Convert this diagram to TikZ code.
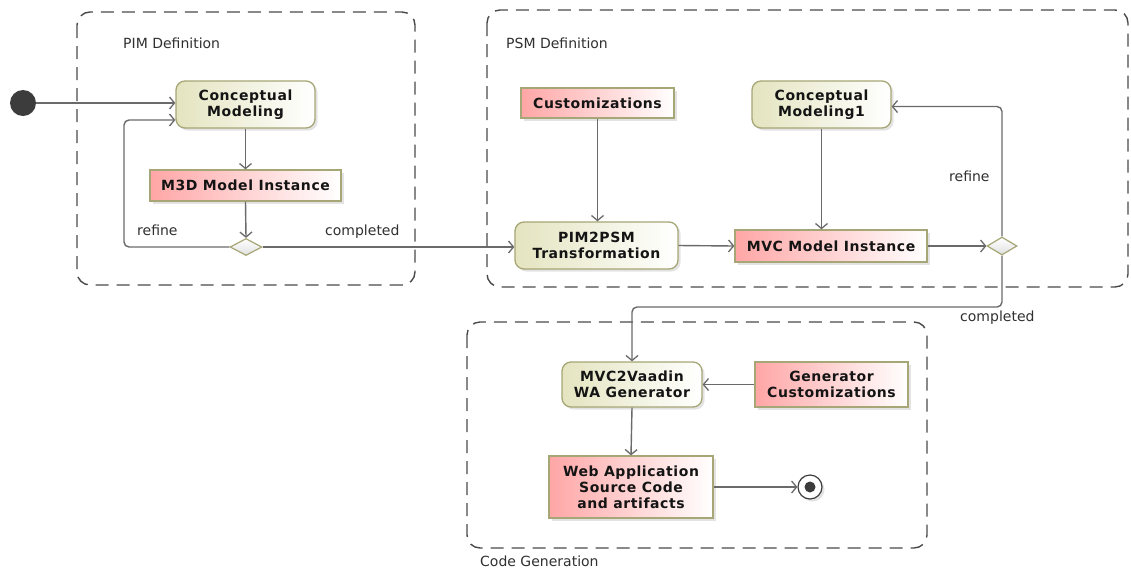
\documentclass[tikz,border=0pt]{standalone}
\usepackage{fontspec}
\setmainfont{DejaVu Sans}
\newfontfamily\boxfont[LetterSpace=4]{DejaVu Sans}
\newfontfamily\tagfont{DejaVu Sans}
\usetikzlibrary{arrows.meta,shapes.geometric,shadows,calc}

\definecolor{actfill}{HTML}{E4E4C0}
\definecolor{actline}{HTML}{A6A676}
\definecolor{objfill}{HTML}{FFA6A6}
\definecolor{flow}{HTML}{6A6A6A}
\definecolor{frameline}{HTML}{4A4A4A}
\definecolor{inkdark}{HTML}{3C3C3C}
\definecolor{tagtext}{HTML}{303030}

\begin{document}
\begin{tikzpicture}[x=1pt,y=-1pt,
  boxshadow/.style={drop shadow={opacity=0.22,shadow xshift=2.5pt,shadow yshift=-2.5pt}},
  activity/.style={draw=actline, line width=1.3pt, rounded corners=9pt,
    left color=actfill, right color=white, boxshadow,
    font=\boxfont\bfseries\fontsize{14}{16}\selectfont, align=center,
    inner sep=0pt, text=black!92},
  artifact/.style={draw=actline, line width=1.3pt,
    left color=objfill, right color=white, boxshadow,
    font=\boxfont\bfseries\fontsize{14}{16}\selectfont, align=center,
    inner sep=0pt, text=black!92},
  choice/.style={diamond, draw=actline, line width=1.2pt, top color=white,
    bottom color=black!12, inner sep=0pt, minimum width=32pt, minimum height=17pt},
  flowarrow/.style={draw=flow, line width=1.4pt, rounded corners=5pt,
    -{Straight Barb[length=5pt,width=12pt,line width=1.3pt]}},
  region/.style={draw=frameline, line width=1.4pt, dash pattern=on 13pt off 8pt,
    rounded corners=13pt},
  tag/.style={font=\tagfont\fontsize{14}{16}\selectfont, text=tagtext,
    inner sep=0pt, anchor=west}
]
\useasboundingbox[fill=white] (0,0) rectangle (1131,571);

% partitions
\draw[region] (77,12) rectangle (415,285);
\draw[region] (487,10) rectangle (1128,287);
\draw[region] (467,322) rectangle (927,548);
\node[tag] (pimlabel) at (123,43) {PIM Definition};
\node[tag] (psmlabel) at (506,43) {PSM Definition};
\node[tag] (cglabel) at (480,561) {Code Generation};

% initial and final states
\node[circle, fill=inkdark, minimum size=26pt, inner sep=0pt] (start) at (23,103) {};
\node[circle, draw=inkdark, line width=1.2pt, fill=white, minimum size=24pt,
  inner sep=0pt, boxshadow] (finish) at (810,487) {};
\node[circle, fill=inkdark, minimum size=11pt, inner sep=0pt] (finishdot) at (finish) {};

% PIM definition
\node[activity, minimum width=139pt, minimum height=47pt] (cm) at (245.5,104.5)
  {Conceptual\\Modeling};
\node[artifact, minimum width=191pt, minimum height=31pt] (m3d) at (245.5,185.5)
  {M3D Model Instance};
\node[choice] (d1) at (246,247) {};

% PSM definition
\node[artifact, minimum width=153pt, minimum height=30pt] (cust) at (597.5,103)
  {Customizations};
\node[activity, minimum width=163pt, minimum height=47pt] (p2p) at (596.5,245.5)
  {PIM2PSM\\Transformation};
\node[activity, minimum width=139pt, minimum height=47pt] (cm1) at (821.5,104.5)
  {Conceptual\\Modeling1};
\node[artifact, minimum width=192pt, minimum height=32pt] (mvc) at (831,246)
  {MVC Model Instance};
\node[choice, minimum width=30pt, minimum height=18pt] (d2) at (1002,246) {};

% code generation
\node[activity, minimum width=140pt, minimum height=45pt] (gen) at (632,384.5)
  {MVC2Vaadin\\WA Generator};
\node[artifact, minimum width=153pt, minimum height=45pt] (gencust) at (831.5,384.5)
  {Generator\\Customizations};
\node[artifact, minimum width=164pt, minimum height=62pt] (web) at (631,487)
  {Web Application\\Source Code\\and artifacts};

% bend points of the loops
\coordinate (pimloop) at (124,247);
\coordinate (cmback) at ($(cm.west)+(0,15.5)$);
\coordinate (cgturn) at (632,307);

% flows
\draw[flowarrow] (start.east) -- (cm.west |- start.east);
\draw[flowarrow] (cm.south) -- (m3d.north);
\draw[flowarrow] (m3d.south) -- (d1.north);
\draw[flowarrow] (d1.west) -- (pimloop) |- (cmback);
\draw[flowarrow] (d1.east) -- (p2p.west |- d1.east);
\draw[flowarrow] (cust.south) -- (cust.south |- p2p.north);
\draw[flowarrow] (p2p.east) -- (mvc.west);
\draw[flowarrow] (cm1.south) -- (cm1.south |- mvc.north);
\draw[flowarrow] (mvc.east) -- (d2.west);
\draw[flowarrow] (d2.north) |- ($(cm1.east)+(0,2)$);
\draw[flowarrow] (d2.south) |- (cgturn) -- (gen.north);
\draw[flowarrow] (gencust.west) -- (gen.east);
\draw[flowarrow] (gen.south) -- (web.north);
\draw[flowarrow] (web.east) -- (finish.west);

% guards
\node[tag] (refinepim) at (137,230) {refine};
\node[tag] (donepim) at (325,232) {completed};
\node[tag] (refinepsm) at (949,176) {refine};
\node[tag] (donepsm) at (960,318) {completed};
\end{tikzpicture}
\end{document}
